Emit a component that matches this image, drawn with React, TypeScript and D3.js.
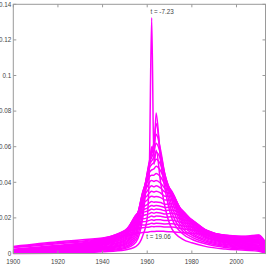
import React from "react";
import * as d3 from "d3";

const years = [1900, 1920, 1940, 1950, 1955, 1958, 1960, 1961, 1962, 1963, 1964, 1966, 1968, 1971, 1976, 1980, 1986, 1995, 2004, 2010, 2013];

const series: number[][] = [
  [0.0000, 0.0002, 0.0010, 0.0020, 0.0040, 0.0100, 0.0200, 0.0500, 0.1325, 0.0500, 0.0580, 0.0400, 0.0260, 0.0140, 0.0080, 0.0060, 0.0040, 0.0025, 0.0018, 0.0012, 0.0000],
  [0.0001, 0.0004, 0.0014, 0.0028, 0.0065, 0.0200, 0.0420, 0.0500, 0.0600, 0.0560, 0.0790, 0.0520, 0.0360, 0.0200, 0.0110, 0.0080, 0.0055, 0.0034, 0.0024, 0.0018, 0.0002],
  [0.0002, 0.0006, 0.0018, 0.0034, 0.0080, 0.0240, 0.0440, 0.0500, 0.0580, 0.0620, 0.0730, 0.0560, 0.0400, 0.0235, 0.0125, 0.0092, 0.0063, 0.0040, 0.0028, 0.0022, 0.0003],
  [0.0003, 0.0008, 0.0022, 0.0040, 0.0095, 0.0280, 0.0450, 0.0520, 0.0560, 0.0600, 0.0670, 0.0580, 0.0430, 0.0270, 0.0140, 0.0104, 0.0071, 0.0045, 0.0032, 0.0026, 0.0004],
  [0.0004, 0.0010, 0.0026, 0.0046, 0.0110, 0.0310, 0.0450, 0.0510, 0.0540, 0.0570, 0.0620, 0.0560, 0.0440, 0.0300, 0.0155, 0.0115, 0.0078, 0.0050, 0.0036, 0.0030, 0.0006],
  [0.0005, 0.0012, 0.0030, 0.0052, 0.0125, 0.0330, 0.0440, 0.0500, 0.0520, 0.0540, 0.0570, 0.0530, 0.0440, 0.0320, 0.0168, 0.0125, 0.0085, 0.0055, 0.0040, 0.0034, 0.0008],
  [0.0006, 0.0014, 0.0034, 0.0058, 0.0140, 0.0340, 0.0430, 0.0480, 0.0500, 0.0510, 0.0530, 0.0500, 0.0430, 0.0335, 0.0180, 0.0134, 0.0091, 0.0060, 0.0044, 0.0038, 0.0010],
  [0.0007, 0.0016, 0.0038, 0.0064, 0.0155, 0.0345, 0.0415, 0.0455, 0.0470, 0.0475, 0.0490, 0.0465, 0.0410, 0.0345, 0.0192, 0.0143, 0.0097, 0.0064, 0.0048, 0.0043, 0.0012],
  [0.0008, 0.0018, 0.0042, 0.0070, 0.0170, 0.0345, 0.0400, 0.0430, 0.0440, 0.0440, 0.0450, 0.0430, 0.0390, 0.0350, 0.0203, 0.0151, 0.0103, 0.0068, 0.0052, 0.0048, 0.0014],
  [0.0009, 0.0020, 0.0046, 0.0076, 0.0182, 0.0335, 0.0375, 0.0400, 0.0410, 0.0405, 0.0410, 0.0395, 0.0365, 0.0345, 0.0213, 0.0159, 0.0108, 0.0072, 0.0056, 0.0053, 0.0016],
  [0.0010, 0.0022, 0.0050, 0.0082, 0.0192, 0.0320, 0.0350, 0.0370, 0.0380, 0.0375, 0.0380, 0.0368, 0.0345, 0.0335, 0.0222, 0.0166, 0.0113, 0.0076, 0.0060, 0.0058, 0.0018],
  [0.0011, 0.0024, 0.0054, 0.0088, 0.0200, 0.0300, 0.0325, 0.0340, 0.0350, 0.0345, 0.0350, 0.0340, 0.0322, 0.0320, 0.0230, 0.0173, 0.0118, 0.0080, 0.0064, 0.0063, 0.0020],
  [0.0012, 0.0026, 0.0058, 0.0094, 0.0208, 0.0280, 0.0300, 0.0315, 0.0322, 0.0318, 0.0320, 0.0314, 0.0300, 0.0300, 0.0236, 0.0179, 0.0122, 0.0083, 0.0068, 0.0068, 0.0023],
  [0.0013, 0.0029, 0.0062, 0.0100, 0.0214, 0.0260, 0.0275, 0.0285, 0.0292, 0.0288, 0.0290, 0.0286, 0.0276, 0.0280, 0.0240, 0.0184, 0.0126, 0.0086, 0.0072, 0.0073, 0.0026],
  [0.0015, 0.0032, 0.0066, 0.0106, 0.0218, 0.0245, 0.0255, 0.0263, 0.0270, 0.0266, 0.0270, 0.0266, 0.0258, 0.0262, 0.0232, 0.0188, 0.0130, 0.0089, 0.0076, 0.0078, 0.0029],
  [0.0017, 0.0035, 0.0070, 0.0112, 0.0214, 0.0230, 0.0238, 0.0243, 0.0250, 0.0246, 0.0250, 0.0247, 0.0240, 0.0245, 0.0220, 0.0190, 0.0133, 0.0092, 0.0080, 0.0083, 0.0032],
  [0.0019, 0.0038, 0.0073, 0.0118, 0.0206, 0.0212, 0.0220, 0.0224, 0.0230, 0.0226, 0.0230, 0.0228, 0.0222, 0.0226, 0.0206, 0.0186, 0.0134, 0.0095, 0.0084, 0.0088, 0.0036],
  [0.0021, 0.0042, 0.0076, 0.0124, 0.0195, 0.0195, 0.0200, 0.0205, 0.0210, 0.0206, 0.0210, 0.0209, 0.0204, 0.0207, 0.0190, 0.0178, 0.0134, 0.0098, 0.0087, 0.0092, 0.0040],
  [0.0024, 0.0046, 0.0079, 0.0130, 0.0180, 0.0178, 0.0182, 0.0186, 0.0190, 0.0186, 0.0190, 0.0189, 0.0185, 0.0187, 0.0172, 0.0166, 0.0131, 0.0100, 0.0090, 0.0096, 0.0045],
  [0.0034, 0.0055, 0.0082, 0.0128, 0.0160, 0.0160, 0.0163, 0.0166, 0.0170, 0.0167, 0.0170, 0.0169, 0.0166, 0.0167, 0.0155, 0.0150, 0.0125, 0.0102, 0.0093, 0.0099, 0.0050],
  [0.0037, 0.0060, 0.0085, 0.0120, 0.0140, 0.0145, 0.0147, 0.0149, 0.0152, 0.0150, 0.0152, 0.0151, 0.0149, 0.0149, 0.0138, 0.0134, 0.0118, 0.0103, 0.0095, 0.0102, 0.0055],
  [0.0040, 0.0066, 0.0087, 0.0102, 0.0112, 0.0118, 0.0120, 0.0122, 0.0124, 0.0123, 0.0125, 0.0125, 0.0124, 0.0122, 0.0117, 0.0114, 0.0108, 0.0101, 0.0097, 0.0104, 0.0062],
];

const xTicks = [1900, 1920, 1940, 1960, 1980, 2000];
const yTicks = [0, 0.02, 0.04, 0.06, 0.08, 0.1, 0.12, 0.14];
const topLabel = "t = -7.23";
const bottomLabel = "t = 19.06";
const topLabelPos = { year: 1962.1, value: 0.1345 };
const bottomLabelPos = { year: 1960.2, value: 0.0079 };

const W = 266, H = 266;
const L = 13.3, R = 265.5, T = 4.3, B = 253.5;
const FONT = "'Liberation Sans', Arial, sans-serif";

export default function App() {
  const x = d3.scaleLinear().domain([1900, 2013]).range([L, R]);
  const y = d3.scaleLinear().domain([0, 0.14]).range([B, T]);
  const line = d3
    .line<number>()
    .x((_, i) => x(years[i]))
    .y((d) => y(d))
    .curve(d3.curveMonotoneX);
  const axisColor = "#9a9a9a";
  const textColor = "#444";
  const fmt = (v: number) => String(+v.toFixed(2));
  return (
    <svg width={W} height={H} style={{ position: "absolute", left: 0, top: 0, background: "#fff" }}>
      <rect x={0} y={0} width={W} height={H} fill="#fff" />
      <g>
        {series.map((s, i) => (
          <path key={i} d={line(s) || ""} fill="none" stroke="#ff00ff" strokeWidth={1.5} strokeLinejoin="round" />
        ))}
      </g>
      <rect x={L} y={T} width={R - L} height={B - T} fill="none" stroke={axisColor} strokeWidth={1} />
      {yTicks.map((v) => (
        <g key={"y" + v}>
          <line x1={L} x2={L + 3} y1={y(v)} y2={y(v)} stroke={axisColor} />
          <line x1={R - 3} x2={R} y1={y(v)} y2={y(v)} stroke={axisColor} />
          <text x={L - 2} y={y(v)} dy="0.35em" textAnchor="end" fontSize={6.3} fontFamily={FONT} fill={textColor}>
            {fmt(v)}
          </text>
        </g>
      ))}
      {xTicks.map((v) => (
        <g key={"x" + v}>
          <line x1={x(v)} x2={x(v)} y1={B} y2={B - 3} stroke={axisColor} />
          <line x1={x(v)} x2={x(v)} y1={T} y2={T + 3} stroke={axisColor} />
          <text x={x(v)} y={B + 10.5} textAnchor="middle" fontSize={6.3} fontFamily={FONT} fill={textColor}>
            {v}
          </text>
        </g>
      ))}
      <text x={x(topLabelPos.year) - 1.5} y={y(topLabelPos.value)} fontSize={6.3} fontFamily={FONT} fill={textColor}>
        {topLabel}
      </text>
      <text x={x(bottomLabelPos.year) - 1.5} y={y(bottomLabelPos.value)} fontSize={6.3} fontFamily={FONT} fill={textColor}>
        {bottomLabel}
      </text>
    </svg>
  );
}
